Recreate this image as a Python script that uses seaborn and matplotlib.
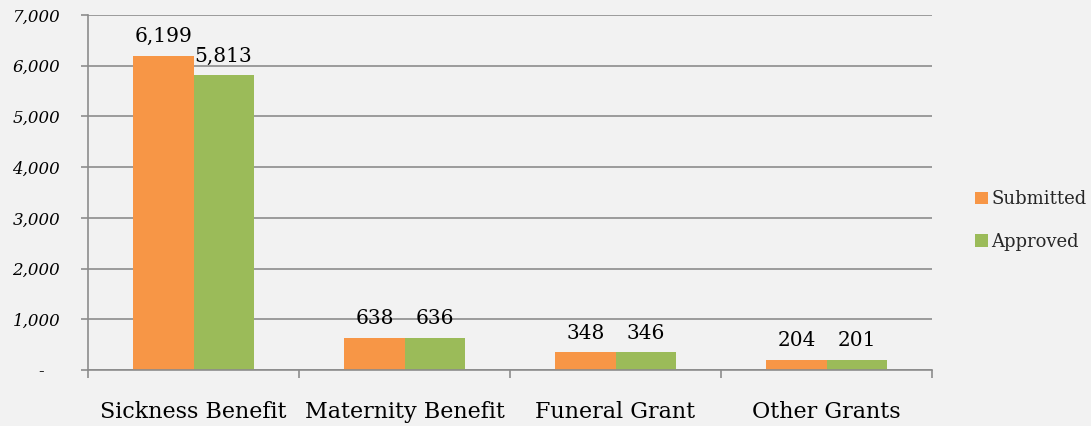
import pandas as pd
import matplotlib.pyplot as plt
import seaborn as sns
from matplotlib.ticker import FixedLocator
from matplotlib.patches import Patch

CATEGORIES = ["Sickness Benefit", "Maternity Benefit", "Funeral Grant", "Other Grants"]
SUBMITTED = [6199, 638, 348, 204]
APPROVED = [5813, 636, 346, 201]
SERIES = ["Submitted", "Approved"]
COLORS = ["#F79646", "#9BBB59"]
Y_TICKS = [0, 1000, 2000, 3000, 4000, 5000, 6000, 7000]
Y_LABELS = ["-   ", "1,000", "2,000", "3,000", "4,000", "5,000", "6,000", "7,000"]

df = pd.DataFrame({
    "category": CATEGORIES * 2,
    "series": [SERIES[0]] * len(CATEGORIES) + [SERIES[1]] * len(CATEGORIES),
    "value": SUBMITTED + APPROVED,
})

sns.set_theme(style="white")
plt.rcParams['font.family'] = ['DejaVu Serif', 'Liberation Serif']
BG = "#F2F2F2"
GRID = "#8C8C8C"

fig = plt.figure(figsize=(10.91, 4.26), dpi=100, facecolor=BG)
ax = fig.add_axes([0.0807, 0.1315, 0.7736, 0.8333], facecolor=BG)

sns.barplot(data=df, x="category", y="value", hue="series", hue_order=SERIES,
            palette=COLORS, width=0.57, saturation=1, ax=ax, legend=False,
            edgecolor="none", linewidth=0)

for cont in ax.containers:
    ax.bar_label(cont, labels=[f"{v:,.0f}" for v in cont.datavalues],
                 padding=7, fontsize=14.5, color="black")

ax.set_xlim(-0.5, len(CATEGORIES) - 0.5)
ax.set_ylim(0, 7000)
ax.set_yticks(Y_TICKS)
ax.set_yticklabels(Y_LABELS, fontstyle="italic")
ax.yaxis.grid(True, color=GRID, linewidth=1.2)
ax.set_axisbelow(True)

for s in ["top", "right"]:
    ax.spines[s].set_visible(False)
for s in ["left", "bottom"]:
    ax.spines[s].set_color(GRID)
    ax.spines[s].set_linewidth(1.2)

ax.tick_params(axis="y", which="major", left=True, length=5, width=1.2, color=GRID,
               pad=15, labelsize=12, labelcolor="black")
ax.tick_params(axis="x", which="major", length=0, pad=22, labelsize=16, labelcolor="black")
ax.xaxis.set_minor_locator(FixedLocator([i - 0.5 for i in range(len(CATEGORIES) + 1)]))
ax.tick_params(axis="x", which="minor", bottom=True, length=6, width=1.2, color=GRID)

ax.set_xlabel("")
ax.set_ylabel("")

handles = [Patch(facecolor=c, edgecolor="none", label=s) for c, s in zip(COLORS, SERIES)]
fig.legend(handles=handles, loc="center left", bbox_to_anchor=(0.879, 0.482),
           frameon=False, fontsize=13, handlelength=0.7, handleheight=0.7,
           handletextpad=0.2, labelspacing=1.35)

fig.savefig("out.png", dpi=100, facecolor=BG)
